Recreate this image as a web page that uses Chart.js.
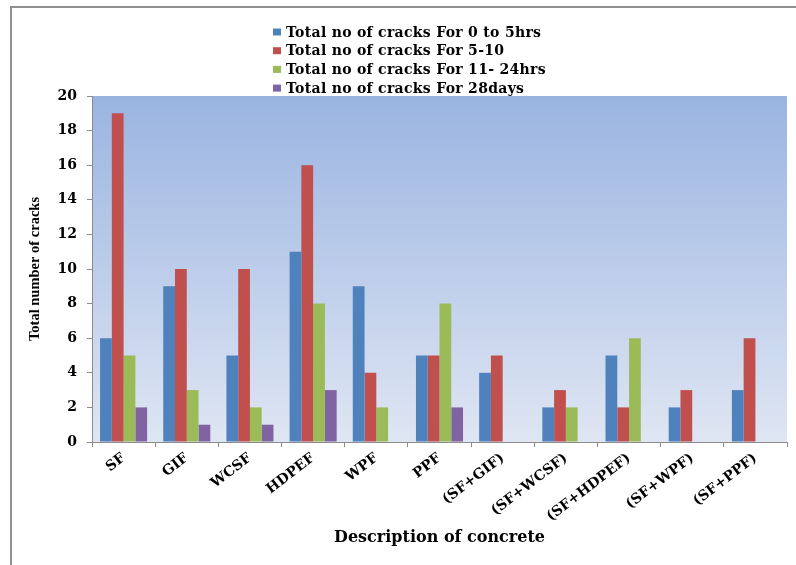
<!DOCTYPE html>
<html>
<head>
<meta charset="utf-8">
<title>Total number of cracks</title>
<script src="https://cdn.jsdelivr.net/npm/chart.js@4.4.1/dist/chart.umd.min.js"></script>
<style>
  html, body { margin: 0; padding: 0; background: #ffffff; }
  #wrap { position: relative; width: 796px; height: 565px; }
</style>
</head>
<body>
<div id="wrap"><canvas id="cracksChart"></canvas></div>
<script>
const categories = ["SF", "GIF", "WCSF", "HDPEF", "WPF", "PPF", "(SF+GIF)", "(SF+WCSF)", "(SF+HDPEF)", "(SF+WPF)", "(SF+PPF)"];
const seriesLabels = [
  "Total no of cracks For 0 to 5hrs",
  "Total no of cracks For 5-10",
  "Total no of cracks For 11- 24hrs",
  "Total no of cracks For 28days",
];
const cracks0to5 = [6, 9, 5, 11, 9, 5, 4, 2, 5, 2, 3];
const cracks5to10 = [19, 10, 10, 16, 4, 5, 5, 3, 2, 3, 6];
const cracks11to24 = [5, 3, 2, 8, 2, 8, 0, 2, 6, 0, 0];
const cracks28days = [2, 1, 1, 3, 0, 2, 0, 0, 0, 0, 0];
const yMin = 0;
const yMax = 20;
const yStep = 2;

const seriesColors = ["#4f81bd", "#c0504d", "#9bbb59", "#8064a2"];
const SERIF_WIDE = "'DejaVu Serif', serif";
const SERIF = "'Liberation Serif', 'Times New Roman', serif";
const AXIS_GRAY = "#8c8c8c";

// gradient behind the bars + thin frame round the figure
const backdropPlugin = {
  id: "backdrop",
  beforeDraw(chart) {
    const { ctx, chartArea } = chart;
    const { left, top, right, bottom } = chartArea;
    ctx.save();
    const grad = ctx.createLinearGradient(0, top, 0, bottom);
    grad.addColorStop(0, "#9ab4e1");
    grad.addColorStop(1, "#dfe6f3");
    ctx.fillStyle = grad;
    ctx.fillRect(left, top, right - left, bottom - top);

    ctx.strokeStyle = "#909090";
    ctx.lineWidth = 2;
    ctx.beginPath();
    ctx.moveTo(11, chart.height + 2);
    ctx.lineTo(11, 7);
    ctx.lineTo(chart.width + 2, 7);
    ctx.stroke();
    ctx.restore();
  },
};

// one-column legend above the plot
const stackedLegendPlugin = {
  id: "stackedLegend",
  afterDraw(chart, args, opts) {
    const { ctx } = chart;
    ctx.save();
    ctx.font = `bold ${opts.fontSize}px ${SERIF_WIDE}`;
    ctx.letterSpacing = opts.spacing;
    ctx.textBaseline = "middle";
    chart.data.datasets.forEach((ds, i) => {
      const y = opts.y + i * opts.lineGap;
      ctx.fillStyle = ds.backgroundColor;
      ctx.fillRect(opts.x, y - opts.boxH / 2, opts.boxW, opts.boxH);
      ctx.fillStyle = "#000000";
      ctx.fillText(ds.label, opts.x + opts.boxW + opts.textGap, y + 1);
    });
    ctx.restore();
  },
};

const datasets = [cracks0to5, cracks5to10, cracks11to24, cracks28days].map((values, i) => ({
  label: seriesLabels[i],
  data: values,
  backgroundColor: seriesColors[i],
  borderWidth: 0,
  categoryPercentage: 0.745,
  barPercentage: 1.0,
}));

new Chart(document.getElementById("cracksChart"), {
  type: "bar",
  data: { labels: categories, datasets },
  plugins: [backdropPlugin, stackedLegendPlugin],
  options: {
    responsive: true,
    maintainAspectRatio: false,
    animation: false,
    layout: { padding: { top: 96, left: 12, right: 9, bottom: 0 } },
    scales: {
      x: {
        afterFit: (scale) => { scale.height = 123; },
        border: { display: true, color: AXIS_GRAY, width: 1 },
        grid: { display: true, drawOnChartArea: false, drawTicks: true, tickLength: 5, color: AXIS_GRAY, offset: true },
        ticks: {
          color: "#000000",
          autoSkip: false,
          minRotation: 37.5,
          maxRotation: 37.5,
          padding: 3,
          font: { family: SERIF_WIDE, size: 14, weight: "bold" },
        },
        title: {
          display: true,
          text: "Description of concrete",
          color: "#000000",
          padding: { top: 0, bottom: 18 },
          font: { family: SERIF_WIDE, size: 16, weight: "bold" },
        },
      },
      y: {
        min: yMin,
        max: yMax,
        afterFit: (scale) => { scale.width = 80; },
        border: { display: true, color: AXIS_GRAY, width: 1 },
        grid: { display: true, drawOnChartArea: false, drawTicks: true, tickLength: 5, color: AXIS_GRAY },
        ticks: {
          stepSize: yStep,
          color: "#000000",
          padding: 10,
          font: { family: SERIF_WIDE, size: 14, weight: "bold" },
        },
        title: {
          display: true,
          text: "Total number of cracks",
          color: "#000000",
          padding: { top: 15, bottom: 0 },
          font: { family: SERIF, size: 14.5, weight: "bold" },
        },
      },
    },
    plugins: {
      legend: { display: false },
      tooltip: { enabled: false },
      stackedLegend: { x: 273, y: 32, lineGap: 18.7, boxW: 8, boxH: 7, textGap: 5, fontSize: 14, spacing: "0.3px" },
    },
  },
});
</script>
</body>
</html>
